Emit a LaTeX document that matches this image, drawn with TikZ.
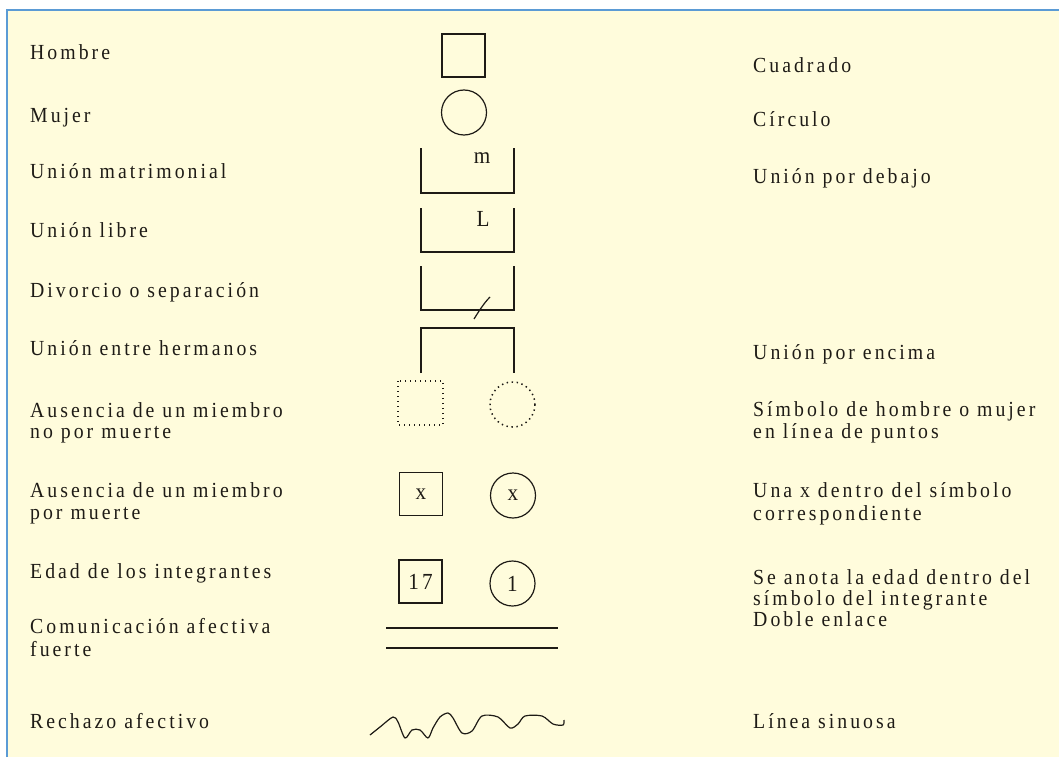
\documentclass[tikz,border=0pt]{standalone}
\usepackage{fontspec}
\setmainfont{Liberation Serif}[LetterSpace=14, FakeStretch=0.92]
\definecolor{bg}{RGB}{255,252,220}
\definecolor{frame}{RGB}{91,155,213}
\definecolor{ink}{RGB}{30,27,22}
\begin{document}
\begin{tikzpicture}[x=1pt,y=-1pt,
  lbl/.style={anchor=base west, inner sep=0pt, font=\fontsize{21.5}{24}\selectfont, text=ink},
  inlbl/.style={inner sep=0pt, font=\fontsize{23}{26}\selectfont, text=ink},
  sym/.style={line width=1.2pt, draw=ink},
  dotsym/.style={line width=1.5pt, draw=ink, dash pattern=on 1.4pt off 3.6pt},
  sqsym/.style={sym, minimum size=43pt, inner sep=0pt},
  cisym/.style={sym, circle, minimum size=45pt, inner sep=0pt}]
\useasboundingbox (0,0) rectangle (1059,757);
\fill[white] (0,0) rectangle (1059,757);
\fill[bg] (7,10) rectangle (1059,757);
\draw[frame, line width=2.6pt] (7,757) -- (7,10) -- (1059,10);

% left column
\node[lbl] (l1) at (30,60) {Hombre};
\node[lbl] (l2) at (30,122) {Mujer};
\node[lbl] (l3) at (30,178) {Unión matrimonial};
\node[lbl] (l4) at (30,237) {Unión libre};
\node[lbl] (l5) at (30,297) {Divorcio o separación};
\node[lbl] (l6) at (30,355) {Unión entre hermanos};
\node[lbl] (l7a) at (30,417) {Ausencia de un miembro};
\node[lbl] (l7b) at (30,438) {no por muerte};
\node[lbl] (l8a) at (30,497) {Ausencia de un miembro};
\node[lbl] (l8b) at (30,519) {por muerte};
\node[lbl] (l9) at (30,578) {Edad de los integrantes};
\node[lbl] (l10a) at (30,633) {Comunicación afectiva};
\node[lbl] (l10b) at (30,656) {fuerte};
\node[lbl] (l11) at (30,728) {Rechazo afectivo};

% right column
\node[lbl] (r1) at (753,73) {Cuadrado};
\node[lbl] (r2) at (753,127) {Círculo};
\node[lbl] (r3) at (753,183) {Unión por debajo};
\node[lbl] (r6) at (753,359) {Unión por encima};
\node[lbl] (r7a) at (753,416) {Símbolo de hombre o mujer};
\node[lbl] (r7b) at (753,438) {en línea de puntos};
\node[lbl] (r8a) at (753,497) {Una x dentro del símbolo};
\node[lbl] (r8b) at (753,520) {correspondiente};
\node[lbl] (r9a) at (753,584) {Se anota la edad dentro del};
\node[lbl] (r9b) at (753,605) {símbolo del integrante};
\node[lbl] (r10) at (753,626) {Doble enlace};
\node[lbl] (r11) at (753,728) {Línea sinuosa};

% symbols
\node[sqsym] (man) at (463.5,55.5) {};
\node[cisym] (woman) at (464,112.5) {};

\draw[sym] (421,148) -- (421,193) -- (514,193) -- (514,148);
\node[inlbl] (m) at (482,158) {m};
\draw[sym] (421,208) -- (421,252) -- (514,252) -- (514,208);
\node[inlbl] (L) at (483,219) {L};
\draw[sym] (421,266) -- (421,310) -- (514,310) -- (514,266);
\draw[sym] (474,319) .. controls (479,311) and (484,303) .. (490,297);

\draw[sym] (421,373) -- (421,328) -- (514,328) -- (514,373);

\draw[dotsym] (398,381) rectangle (443,425);
\draw[dotsym] (512.5,404.5) circle (22.5);

\node[sqsym] (xman) at (421,494) {};
\node[inlbl] (xm) at (xman.center) {x};
\node[cisym] (xwoman) at (513,495.5) {};
\node[inlbl] (xw) at (xwoman.center) {x};

\node[sqsym] (aman) at (420.5,581.5) {};
\node[inlbl] (am) at (aman.center) {17};
\node[cisym] (awoman) at (512.5,583.5) {};
\node[inlbl] (aw) at (awoman.center) {1};

\draw[sym] (386,628) -- (558,628);
\draw[sym] (386,648) -- (558,648);

\draw[sym, line join=round] plot[smooth, tension=0.5] coordinates {
 (370,735) (380,727) (393,717) (398,722) (405,738) (412,730) (420,730)
 (428,738) (433,728) (440,717) (448,713) (453,718) (462,733) (472,731)
 (482,716) (498,717) (510,728) (518,724) (525,716) (542,716) (553,724)
 (563,725) (564,720)};
\end{tikzpicture}
\end{document}
